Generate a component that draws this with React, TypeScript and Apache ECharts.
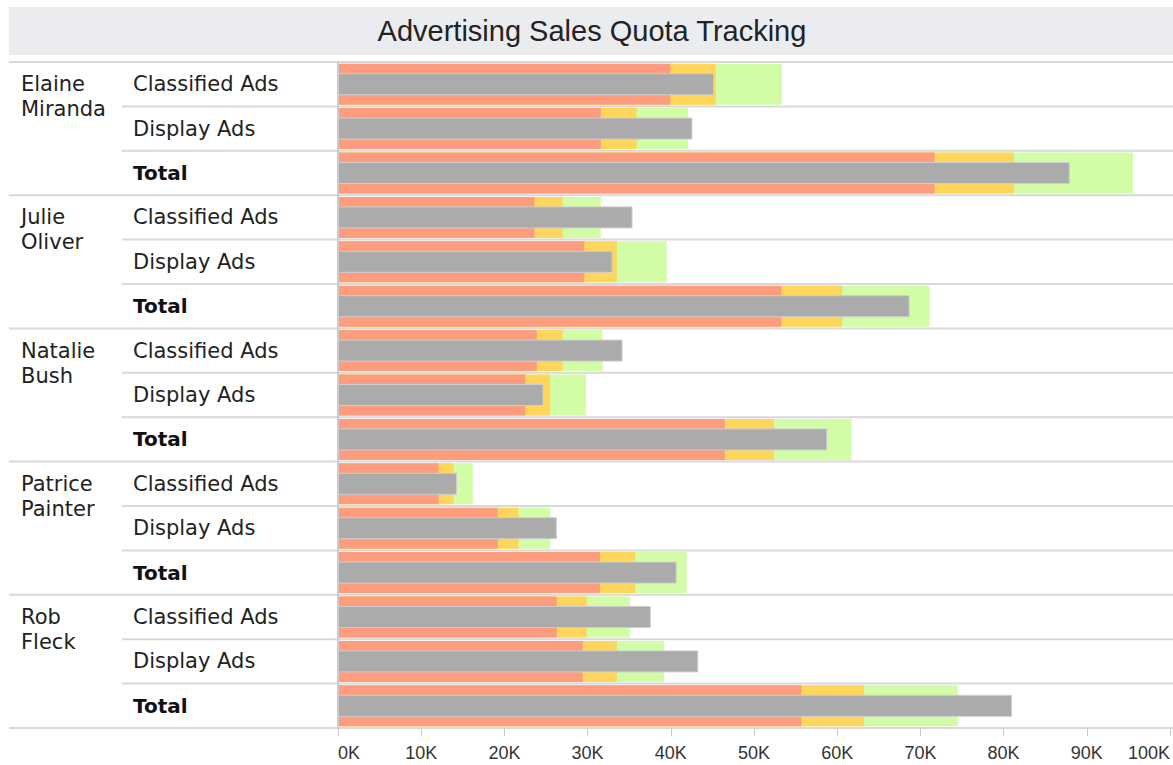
import React, { useEffect, useRef } from "react";
import * as echarts from "echarts";

const persons = ["Elaine Miranda", "Julie Oliver", "Natalie Bush", "Patrice Painter", "Rob Fleck"];
const adTypes = ["Classified Ads", "Display Ads", "Total"];
const xTicksK = [0, 10, 20, 30, 40, 50, 60, 70, 80, 90, 100];

// Rows: person × ad type (Classified, Display, Total)
const actualSales = [45200, 42600, 87950, 35400, 33000, 68700, 34200, 24700, 58800, 14300, 26300, 40700, 37600, 43300, 81000];
const bandLow = [39950, 31600, 71700, 23600, 29600, 53300, 23900, 22500, 46500, 12100, 19200, 31500, 26300, 29400, 55700];
const bandMid = [45400, 35900, 81250, 27000, 33500, 60600, 27000, 25500, 52400, 13900, 21700, 35700, 29900, 33500, 63200];
const quota = [53350, 42100, 95550, 31600, 39500, 71100, 31800, 29800, 61700, 16200, 25500, 41900, 35100, 39200, 74500];

const TITLE = "Advertising Sales Quota Tracking";

export default function App() {
  const ref = useRef<HTMLDivElement>(null);
  useEffect(() => {
    if (!ref.current) return;
    const chart = echarts.init(ref.current, null, { renderer: "svg" });
    const rows = persons.flatMap((p) => adTypes.map((a) => p + "|" + a));
    const labelFont = "DejaVu Sans";
    const W = 1173;
    chart.setOption({
      animation: false,
      backgroundColor: "#ffffff",
      graphic: [
        { type: "rect", shape: { x: 9, y: 7, width: W - 9, height: 48 }, style: { fill: "#ebecef" }, z: -1 },
        {
          type: "text",
          x: 592,
          y: 31,
          style: {
            text: TITLE,
            fill: "#222222",
            font: "29px 'Liberation Sans', Arial, sans-serif",
            align: "center",
            verticalAlign: "middle",
          },
        },
      ],
      grid: { left: 338, right: 1, top: 62, bottom: 37, containLabel: false },
      xAxis: {
        type: "value",
        min: 0,
        max: 100000,
        interval: 10000,
        axisLine: { show: false },
        axisTick: { show: true, length: 8, lineStyle: { color: "#c8c8c8", width: 1 } },
        splitLine: { show: false },
        axisLabel: {
          margin: 16,
          color: "#333333",
          fontFamily: "Liberation Sans",
          fontSize: 18,
          alignMinLabel: "left",
          alignMaxLabel: "right",
          formatter: (v: number) => {
            const k = Math.round(v / 1000);
            return xTicksK.includes(k) ? k + "K" : "";
          },
        },
      },
      yAxis: [
        {
          type: "category",
          data: rows,
          inverse: true,
          position: "left",
          z: 10,
          axisLine: { show: true, lineStyle: { color: "#cccccc", width: 2 } },
          axisTick: { show: false },
          splitLine: { show: false },
          axisLabel: {
            interval: 0,
            align: "left",
            margin: 338 - 133,
            color: "#222222",
            fontFamily: labelFont,
            fontSize: 21,
            formatter: (v: string) => {
              const t = v.split("|")[1];
              return t === "Total" ? "{b|" + t + "}" : "{n|" + t + "}";
            },
            rich: {
              n: { fontFamily: labelFont, fontSize: 21, color: "#222222" },
              b: { fontFamily: labelFont, fontSize: 20, fontWeight: "bold", color: "#111111" },
            },
          },
        },
        {
          type: "category",
          data: rows,
          inverse: true,
          position: "left",
          axisLine: { show: false },
          axisTick: { show: false },
          splitLine: { show: false },
          axisLabel: {
            interval: 0,
            align: "left",
            verticalAlign: "middle",
            margin: 338 - 21,
            color: "#222222",
            fontFamily: labelFont,
            fontSize: 21,
            lineHeight: 25,
            formatter: (v: string, i: number) => {
              if (i % 3 !== 0) return "";
              const parts = v.split("|")[0].split(" ");
              return "\n" + parts[0] + "\n" + parts.slice(1).join(" ");
            },
          },
        },
      ],
      series: [
        {
          type: "custom",
          yAxisIndex: 0,
          silent: true,
          z: 1,
          data: rows.map((_, i) => [0, i]),
          encode: { x: 0, y: 1 },
          renderItem: (params: any, api: any) => {
            const i = params.dataIndex;
            const c = api.coord([0, i]);
            const h = api.size([0, 1])[1];
            const style = { stroke: "#d9d9d9", lineWidth: 2 };
            const yb = c[1] + h / 2;
            const children: any[] = [
              { type: "line", shape: { x1: i % 3 === 2 ? 9 : 122, y1: yb, x2: W, y2: yb }, style },
            ];
            if (i === 0) {
              const yt = c[1] - h / 2;
              children.push({ type: "line", shape: { x1: 9, y1: yt, x2: W, y2: yt }, style });
            }
            return { type: "group", children };
          },
        },
        {
          type: "bar",
          name: "Quota",
          yAxisIndex: 0,
          data: quota,
          barWidth: 41,
          barGap: "-100%",
          itemStyle: { color: "#d2fca6" },
          z: 2,
        },
        {
          type: "bar",
          name: "85%",
          yAxisIndex: 0,
          data: bandMid,
          barWidth: 41,
          barGap: "-100%",
          itemStyle: { color: "#fed65b" },
          z: 2,
        },
        {
          type: "bar",
          name: "75%",
          yAxisIndex: 0,
          data: bandLow,
          barWidth: 41,
          barGap: "-100%",
          itemStyle: { color: "#fe9d7e" },
          z: 2,
        },
        {
          type: "bar",
          name: "Actual",
          yAxisIndex: 1,
          data: actualSales,
          barWidth: 22,
          itemStyle: { color: "#ababab", borderColor: "#cdcdcd", borderWidth: 1 },
          z: 3,
        },
      ],
    });
    return () => chart.dispose();
  }, []);
  return (
    <div
      ref={ref}
      style={{ position: "fixed", left: 0, top: 0, width: 1173, height: 765, background: "#fff" }}
    />
  );
}
